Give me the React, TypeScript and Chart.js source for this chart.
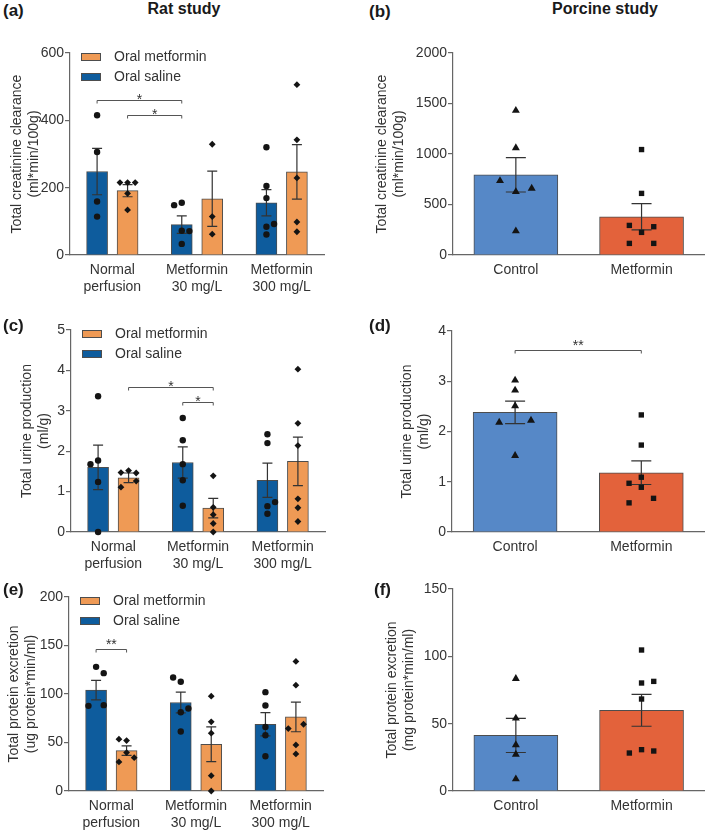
import React, { useEffect, useRef } from 'react';
import { Chart, registerables } from 'chart.js';

Chart.register(...registerables);

const FONT = '"Liberation Sans", Arial, Helvetica, sans-serif';
const TEXT = '#333333';
const AXIS = '#666666';
const BAR_EDGE = '#4d4d4d';
const MARK = '#141414';
const RAT_BLUE = '#0e5c9d';
const RAT_ORANGE = '#ef9a55';
const PIG_BLUE = '#5688c7';
const PIG_RED = '#e3623b';

// ---------- categories / labels ----------
const ratCategories = [['Normal', 'perfusion'], ['Metformin', '30 mg/L'], ['Metformin', '300 mg/L']];
const pigCategories = ['Control', 'Metformin'];
const ratSeriesLabels = ['Oral saline', 'Oral metformin'];

// ---------- tick labels ----------
const aTicks = [0, 200, 400, 600];
const bTicks = [0, 500, 1000, 1500, 2000];
const cTicks = [0, 1, 2, 3, 4, 5];
const dTicks = [0, 1, 2, 3, 4];
const eTicks = [0, 50, 100, 150, 200];
const fTicks = [0, 50, 100, 150];

// ---------- (a) rat creatinine clearance ----------
const aSalineMean = [248, 90, 155];
const aSalineSem = [69, 26, 39];
const aMetforminMean = [191, 167, 247];
const aMetforminSem = [18, 82, 81];
const aSalinePoints = [[415, 306, 159, 114], [148, 155, 72, 71, 33], [320, 205, 169, 84, 92, 61]];
const aSalineJitter = [[0, 0, 0, 0], [-0.09, 0, 0, 0.09, 0], [0, 0, 0, 0, 0.09, 0]];
const aMetforminPoints = [[215, 215, 215, 183, 134], [329, 114, 62], [506, 342, 229, 98, 69]];
const aMetforminJitter = [[-0.09, 0, 0.09, 0, 0], [0, 0, 0], [0, 0, 0, 0, 0]];

// ---------- (b) porcine creatinine clearance ----------
const bMean = [794, 379];
const bSem = [170, 130];
const bControlPoints = [1430, 1061, 735, 626, 659, 237];
const bControlJitter = [0, 0, -0.126, 0, 0.126, 0];
const bMetforminPoints = [1044, 610, 293, 280, 224, 115, 115];
const bMetforminJitter = [0, 0, -0.097, 0.097, 0, -0.097, 0.097];

// ---------- (c) rat urine production ----------
const cSalineMean = [1.6, 1.72, 1.28];
const cSalineSem = [0.55, 0.385, 0.425];
const cMetforminMean = [1.34, 0.59, 1.75];
const cMetforminSem = [0.12, 0.24, 0.6];
const cSalinePoints = [[3.36, 1.68, 1.77, 1.24, 0], [2.82, 2.27, 1.68, 1.28, 0.65], [2.42, 2.2, 0.64, 0.74, 0.45]];
const cSalineJitter = [[0, -0.09, 0, 0, 0], [0, 0, 0, 0, 0], [0, 0, 0, 0.09, 0]];
const cMetforminPoints = [[1.47, 1.52, 1.46, 1.11, 1.26], [1.39, 0.61, 0.43, 0.21, 0], [4.03, 2.69, 2.14, 0.82, 0.6, 0.26]];
const cMetforminJitter = [[-0.09, 0, 0.09, -0.09, 0.09], [0, 0, 0, 0, 0], [0, 0, 0, 0, 0, 0]];

// ---------- (d) porcine urine production ----------
const dMean = [2.38, 1.18];
const dSem = [0.225, 0.235];
const dControlPoints = [3.02, 2.82, 2.51, 2.18, 2.22, 1.52];
const dControlJitter = [0, 0, 0, -0.126, 0.126, 0];
const dMetforminPoints = [2.33, 1.73, 1.09, 0.97, 0.89, 0.67, 0.58];
const dMetforminJitter = [0, 0, 0, -0.097, 0, 0.097, -0.097];

// ---------- (e) rat protein excretion ----------
const eSalineMean = [104, 91.2, 68.8];
const eSalineSem = [10, 10.7, 12];
const eMetforminMean = [41.7, 48.2, 76.4];
const eMetforminSem = [4.9, 18, 15.3];
const eSalinePoints = [[128, 121.5, 87.8, 88.5], [117, 112.6, 85, 81.2, 61.3], [101.9, 88.1, 66.1, 57.5, 35.8]];
const eSalineJitter = [[0, 0.09, -0.09, 0.09], [-0.09, 0, 0.09, 0, 0], [0, 0, 0, 0, 0]];
const eMetforminPoints = [[53.4, 52, 39.6, 34.4, 30], [97.8, 71.3, 59.6, 15.8, 0], [133.6, 109.1, 64.4, 68.8, 47.5, 38.2]];
const eMetforminJitter = [[-0.09, 0, 0, 0.09, -0.09], [0, 0, 0, 0, 0], [0, 0, -0.09, 0.09, 0, 0]];

// ---------- (f) porcine protein excretion ----------
const fMean = [41.3, 59.9];
const fSem = [12.7, 11.8];
const fControlPoints = [83.4, 54, 34.2, 27.2, 8.9];
const fControlJitter = [0, 0, 0, 0, 0];
const fMetforminPoints = [104.7, 80.2, 81.4, 68.3, 30.7, 28.2, 29.7];
const fMetforminJitter = [0, 0, 0.097, 0, 0, -0.097, 0.097];

// ---------- significance brackets: [datasetIndex, categoryIndex] ----------
const aBrackets = [
  { from: [0, 0], to: [0, 1], y: 460, text: '*' },
  { from: [1, 0], to: [0, 1], y: 415, text: '*' },
];
const bBrackets: any[] = [];
const cBrackets = [
  { from: [1, 0], to: [1, 1], y: 3.6, text: '*' },
  { from: [0, 1], to: [1, 1], y: 3.21, text: '*' },
];
const dBrackets = [{ from: [0, 0], to: [0, 1], y: 3.63, text: '**' }];
const eBrackets = [{ from: [0, 0], to: [1, 0], y: 146.3, text: '**' }];
const fBrackets: any[] = [];

// bar placement inside a category (category units)
const RAT_SHIFT = 0.18;

function barData(means: number[], shift: number) {
  return means.map((v, i) => ({ x: i + shift, y: v }));
}
function groupedPoints(values: number[][], jitter: number[][], shift: number) {
  const out: { x: number; y: number }[] = [];
  values.forEach((g, gi) => g.forEach((v, pi) => out.push({ x: gi + shift + jitter[gi][pi], y: v })));
  return out;
}
function singlePoints(values: number[], jitter: number[], cat: number) {
  return values.map((v, i) => ({ x: cat + jitter[i], y: v }));
}

function ratBars(sMean, sSem, mMean, mSem) {
  return [
    { label: ratSeriesLabels[0], data: barData(sMean, -RAT_SHIFT), sem: sSem, color: RAT_BLUE },
    { label: ratSeriesLabels[1], data: barData(mMean, RAT_SHIFT), sem: mSem, color: RAT_ORANGE },
  ];
}
function pigBars(mean, sem) {
  return [{ label: 'Porcine', data: barData(mean, 0), sem, color: [PIG_BLUE, PIG_RED] }];
}
function ratPoints(sP, sJ, mP, mJ) {
  return [
    { data: groupedPoints(sP, sJ, -RAT_SHIFT), style: 'circle', radius: 3.2 },
    { data: groupedPoints(mP, mJ, RAT_SHIFT), style: 'rectRot', radius: 3.4 },
  ];
}
function pigPoints(cP, cJ, mP, mJ) {
  return [
    { data: singlePoints(cP, cJ, 0), style: 'triangle', radius: 4.6 },
    { data: singlePoints(mP, mJ, 1), style: 'rect', radius: 3.8 },
  ];
}

const panels = [
  {
    id: 'a', canvas: { left: 0, top: 30, w: 360, h: 270 }, area: { left: 70, top: 53, right: 324, bottom: 255 },
    categories: ratCategories, bars: ratBars(aSalineMean, aSalineSem, aMetforminMean, aMetforminSem),
    barW: 21, cap: 10,
    points: ratPoints(aSalinePoints, aSalineJitter, aMetforminPoints, aMetforminJitter),
    yTicks: aTicks, yTitle: ['Total creatinine clearance', '(ml*min/100g)'], titlePad: 8, brackets: aBrackets, legend: true,
  },
  {
    id: 'b', canvas: { left: 360, top: 30, w: 349, h: 270 }, area: { left: 453, top: 53, right: 705, bottom: 255 },
    categories: pigCategories, bars: pigBars(bMean, bSem),
    barW: 84, cap: 20,
    points: pigPoints(bControlPoints, bControlJitter, bMetforminPoints, bMetforminJitter),
    yTicks: bTicks, yTitle: ['Total creatinine clearance', '(ml*min/100g)'], titlePad: 13, brackets: bBrackets, legend: false,
  },
  {
    id: 'c', canvas: { left: 0, top: 300, w: 360, h: 275 }, area: { left: 71, top: 330, right: 325, bottom: 532 },
    categories: ratCategories, bars: ratBars(cSalineMean, cSalineSem, cMetforminMean, cMetforminSem),
    barW: 21, cap: 10,
    points: ratPoints(cSalinePoints, cSalineJitter, cMetforminPoints, cMetforminJitter),
    yTicks: cTicks, yTitle: ['Total urine production', '(ml/g)'], titlePad: 18, brackets: cBrackets, legend: true,
  },
  {
    id: 'd', canvas: { left: 360, top: 300, w: 349, h: 275 }, area: { left: 452, top: 331, right: 705, bottom: 532 },
    categories: pigCategories, bars: pigBars(dMean, dSem),
    barW: 84, cap: 20,
    points: pigPoints(dControlPoints, dControlJitter, dMetforminPoints, dMetforminJitter),
    yTicks: dTicks, yTitle: ['Total urine production', '(ml/g)'], titlePad: 38, brackets: dBrackets, legend: false,
  },
  {
    id: 'e', canvas: { left: 0, top: 575, w: 360, h: 255 }, area: { left: 69, top: 597, right: 323, bottom: 791 },
    categories: ratCategories, bars: ratBars(eSalineMean, eSalineSem, eMetforminMean, eMetforminSem),
    barW: 21, cap: 10,
    points: ratPoints(eSalinePoints, eSalineJitter, eMetforminPoints, eMetforminJitter),
    yTicks: eTicks, yTitle: ['Total protein excretion', '(ug protein*min/ml)'], titlePad: 5, brackets: eBrackets, legend: true,
  },
  {
    id: 'f', canvas: { left: 360, top: 575, w: 349, h: 255 }, area: { left: 453, top: 589, right: 705, bottom: 791 },
    categories: pigCategories, bars: pigBars(fMean, fSem),
    barW: 84, cap: 20,
    points: pigPoints(fControlPoints, fControlJitter, fMetforminPoints, fMetforminJitter),
    yTicks: fTicks, yTitle: ['Total protein excretion', '(mg protein*min/ml)'], titlePad: 23, brackets: fBrackets, legend: false,
  },
];

function errorBarPlugin(sems: number[][], cap: number) {
  return {
    id: 'semBars',
    afterDatasetDraw(chart: any, args: any) {
      const sem = sems[args.index];
      if (!sem) return;
      const ds = chart.data.datasets[args.index];
      const y = chart.scales.y;
      const ctx = chart.ctx;
      ctx.save();
      ctx.strokeStyle = '#333333';
      ctx.lineWidth = 1.2;
      args.meta.data.forEach((bar: any, i: number) => {
        const m = ds.data[i].y;
        const top = y.getPixelForValue(m + sem[i]);
        const bot = y.getPixelForValue(m - sem[i]);
        const x = bar.x;
        ctx.beginPath();
        ctx.moveTo(x, top);
        ctx.lineTo(x, bot);
        ctx.moveTo(x - cap / 2, top);
        ctx.lineTo(x + cap / 2, top);
        ctx.moveTo(x - cap / 2, bot);
        ctx.lineTo(x + cap / 2, bot);
        ctx.stroke();
      });
      ctx.restore();
    },
  };
}

function bracketPlugin(brackets: any[]) {
  return {
    id: 'sigBrackets',
    afterDatasetsDraw(chart: any) {
      const y = chart.scales.y;
      const ctx = chart.ctx;
      ctx.save();
      brackets.forEach((b) => {
        const x1 = chart.getDatasetMeta(b.from[0]).data[b.from[1]].x;
        const x2 = chart.getDatasetMeta(b.to[0]).data[b.to[1]].x;
        const py = Math.round(y.getPixelForValue(b.y)) + 0.5;
        ctx.strokeStyle = '#555555';
        ctx.lineWidth = 1;
        ctx.beginPath();
        ctx.moveTo(x1, py + 3);
        ctx.lineTo(x1, py);
        ctx.lineTo(x2, py);
        ctx.lineTo(x2, py + 3);
        ctx.stroke();
        ctx.fillStyle = TEXT;
        ctx.font = `14px ${FONT}`;
        ctx.textAlign = 'center';
        ctx.textBaseline = 'alphabetic';
        const gap = b.text.length > 1 ? 8.5 : 5;
        ctx.fillText(b.text, (x1 + x2) / 2, py - gap + 8);
      });
      ctx.restore();
    },
  };
}

function legendPlugin(show: boolean) {
  return {
    id: 'insideLegend',
    afterDraw(chart: any) {
      if (!show) return;
      const items = chart.data.datasets.filter((d: any) => d.type === 'bar').slice().reverse();
      const { ctx, chartArea } = chart;
      ctx.save();
      items.forEach((d: any, i: number) => {
        const x = chartArea.left + 11;
        const cy = chartArea.top + 4 + i * 20;
        ctx.fillStyle = d.backgroundColor;
        ctx.fillRect(x, cy - 4, 20, 8);
        ctx.strokeStyle = BAR_EDGE;
        ctx.lineWidth = 1;
        ctx.strokeRect(x + 0.5, cy - 3.5, 19, 7);
        ctx.fillStyle = TEXT;
        ctx.font = `14px ${FONT}`;
        ctx.textBaseline = 'middle';
        ctx.textAlign = 'left';
        ctx.fillText(d.label, x + 33, cy);
      });
      ctx.restore();
    },
  };
}

function buildConfig(s: any) {
  const yW = s.area.left - s.canvas.left;
  const xH = s.canvas.top + s.canvas.h - s.area.bottom;
  const cats = s.categories;
  const datasets: any[] = [
    ...s.bars.map((b: any) => ({
      type: 'bar',
      label: b.label,
      data: b.data,
      backgroundColor: b.color,
      borderColor: BAR_EDGE,
      borderWidth: 1,
      grouped: false,
      barThickness: s.barW,
      xAxisID: 'x',
      yAxisID: 'y',
      order: 1,
    })),
    ...s.points.map((p: any) => ({
      type: 'scatter',
      label: '',
      data: p.data,
      pointStyle: p.style,
      pointRadius: p.radius,
      pointHoverRadius: p.radius,
      backgroundColor: MARK,
      borderColor: MARK,
      borderWidth: 0,
      xAxisID: 'x',
      yAxisID: 'y',
      order: 0,
      clip: false,
    })),
  ];
  const yt = s.yTicks;
  return {
    type: 'bar',
    data: { datasets },
    options: {
      responsive: false,
      animation: false,
      events: [],
      layout: {
        padding: { left: 0, top: s.area.top - s.canvas.top, right: s.canvas.left + s.canvas.w - s.area.right, bottom: 0 },
      },
      plugins: { legend: { display: false }, tooltip: { enabled: false }, title: { display: false } },
      scales: {
        x: {
          type: 'linear',
          position: 'bottom',
          offset: false,
          min: -0.5,
          max: cats.length - 0.5,
          afterBuildTicks: (sc: any) => { sc.ticks = cats.map((_: any, i: number) => ({ value: i })); },
          grid: { display: false, drawTicks: false, offset: false },
          border: { display: true, color: AXIS, width: 1.2 },
          ticks: {
            color: TEXT,
            font: { family: FONT, size: 14 },
            padding: 7,
            maxRotation: 0,
            minRotation: 0,
            autoSkip: false,
            callback: (v: any) => cats[Math.round(v)],
          },
          afterFit: (sc: any) => { sc.height = xH; },
        },
        y: {
          type: 'linear',
          position: 'left',
          min: yt[0],
          max: yt[yt.length - 1],
          afterBuildTicks: (sc: any) => { sc.ticks = yt.map((v: number) => ({ value: v })); },
          ticks: { color: TEXT, font: { family: FONT, size: 14 }, padding: 1, callback: (v: any) => String(v) },
          grid: { display: true, drawOnChartArea: false, drawTicks: true, tickLength: 5, color: AXIS, lineWidth: 1.2 },
          border: { display: true, color: AXIS, width: 1.2 },
          title: {
            display: true,
            text: s.yTitle,
            color: TEXT,
            font: { family: FONT, size: 14, lineHeight: 1.25 },
            padding: { top: s.titlePad, bottom: 0 },
          },
          afterFit: (sc: any) => { sc.width = yW; },
        },
      },
    },
    plugins: [errorBarPlugin(s.bars.map((b: any) => b.sem), s.cap), bracketPlugin(s.brackets), legendPlugin(s.legend)],
  };
}

function Panel({ spec }: { spec: any }) {
  const ref = useRef<HTMLCanvasElement>(null);
  useEffect(() => {
    const chart = new Chart(ref.current as HTMLCanvasElement, buildConfig(spec) as any);
    return () => chart.destroy();
  }, [spec]);
  return (
    <canvas
      ref={ref}
      width={spec.canvas.w}
      height={spec.canvas.h}
      style={{ position: 'absolute', left: spec.canvas.left, top: spec.canvas.top, width: spec.canvas.w, height: spec.canvas.h }}
    />
  );
}

const panelLetters = [
  { text: '(a)', left: 3, cy: 11 },
  { text: '(b)', left: 369, cy: 11.5 },
  { text: '(c)', left: 3, cy: 325.5 },
  { text: '(d)', left: 369, cy: 325.5 },
  { text: '(e)', left: 3, cy: 589.5 },
  { text: '(f)', left: 374, cy: 589.5 },
];
const columnTitles = [
  { text: 'Rat study', cx: 184, cy: 8.5 },
  { text: 'Porcine study', cx: 605, cy: 8.5 },
];

export default function App() {
  return (
    <div
      style={{
        position: 'absolute',
        left: 0,
        top: 0,
        width: 709,
        height: 830,
        background: '#ffffff',
        overflow: 'hidden',
        fontFamily: FONT,
        color: '#1a1a1a',
      }}
    >
      {panels.map((p) => (
        <Panel key={p.id} spec={p} />
      ))}
      {panelLetters.map((l) => (
        <div
          key={l.text}
          style={{ position: 'absolute', left: l.left, top: l.cy - 10, lineHeight: '20px', fontSize: 17, fontWeight: 'bold', whiteSpace: 'nowrap' }}
        >
          {l.text}
        </div>
      ))}
      {columnTitles.map((t) => (
        <div
          key={t.text}
          style={{
            position: 'absolute',
            left: t.cx - 100,
            width: 200,
            textAlign: 'center',
            top: t.cy - 10,
            lineHeight: '20px',
            fontSize: 16,
            fontWeight: 'bold',
            whiteSpace: 'nowrap',
          }}
        >
          {t.text}
        </div>
      ))}
    </div>
  );
}
